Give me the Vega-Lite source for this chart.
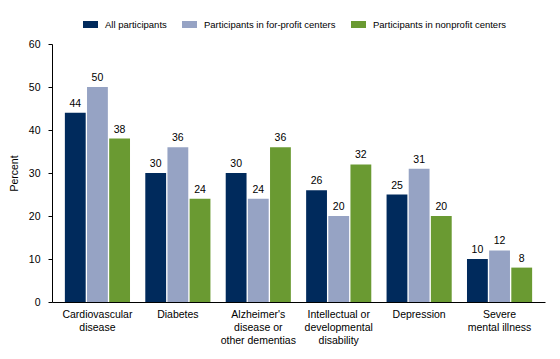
{
  "$schema": "https://vega.github.io/schema/vega-lite/v6.json",
  "autosize": "none",
  "width": 493,
  "height": 258,
  "padding": {"left": 52, "top": 44, "right": 15, "bottom": 57},
  "background": "white",
  "config": {
    "font": "Liberation Sans",
    "view": {"stroke": null},
    "axis": {"labelFont": "Liberation Sans", "titleFont": "Liberation Sans", "labelFontSize": 10.5, "labelColor": "#000000", "titleColor": "#000000", "domainColor": "#000000", "tickColor": "#000000", "grid": false}
  },
  "data": {
    "values": [
      {"cat": "Cardiovascular|disease", "grp": "All participants", "pct": 44},
      {"cat": "Cardiovascular|disease", "grp": "Participants in for-profit centers", "pct": 50},
      {"cat": "Cardiovascular|disease", "grp": "Participants in nonprofit centers", "pct": 38},
      {"cat": "Diabetes", "grp": "All participants", "pct": 30},
      {"cat": "Diabetes", "grp": "Participants in for-profit centers", "pct": 36},
      {"cat": "Diabetes", "grp": "Participants in nonprofit centers", "pct": 24},
      {"cat": "Alzheimer's|disease or|other dementias", "grp": "All participants", "pct": 30},
      {"cat": "Alzheimer's|disease or|other dementias", "grp": "Participants in for-profit centers", "pct": 24},
      {"cat": "Alzheimer's|disease or|other dementias", "grp": "Participants in nonprofit centers", "pct": 36},
      {"cat": "Intellectual or|developmental|disability", "grp": "All participants", "pct": 26},
      {"cat": "Intellectual or|developmental|disability", "grp": "Participants in for-profit centers", "pct": 20},
      {"cat": "Intellectual or|developmental|disability", "grp": "Participants in nonprofit centers", "pct": 32},
      {"cat": "Depression", "grp": "All participants", "pct": 25},
      {"cat": "Depression", "grp": "Participants in for-profit centers", "pct": 31},
      {"cat": "Depression", "grp": "Participants in nonprofit centers", "pct": 20},
      {"cat": "Severe|mental illness", "grp": "All participants", "pct": 10},
      {"cat": "Severe|mental illness", "grp": "Participants in for-profit centers", "pct": 12},
      {"cat": "Severe|mental illness", "grp": "Participants in nonprofit centers", "pct": 8}
    ]
  },
  "encoding": {
    "x": {
      "field": "cat", "type": "nominal", "sort": null,
      "scale": {"paddingInner": 0.19, "paddingOuter": 0.16},
      "axis": {"title": null, "labelAngle": 0, "ticks": false, "labelPadding": 7, "labelExpr": "split(datum.value, '|')", "labelLineHeight": 13, "labelBaseline": "top", "domainWidth": 1}
    },
    "xOffset": {
      "field": "grp", "type": "nominal",
      "scale": {"domain": ["All participants", "Participants in for-profit centers", "Participants in nonprofit centers"], "paddingInner": 0.06}
    },
    "y": {
      "field": "pct", "type": "quantitative",
      "scale": {"domain": [0, 60]},
      "axis": {"title": "Percent", "values": [0, 10, 20, 30, 40, 50, 60], "tickSize": 4, "labelPadding": 8, "titleFontSize": 10.5, "titleFontWeight": "normal", "titlePadding": 9}
    }
  },
  "layer": [
    {
      "mark": {"type": "bar"},
      "encoding": {
        "color": {
          "field": "grp", "type": "nominal",
          "scale": {"domain": ["All participants", "Participants in for-profit centers", "Participants in nonprofit centers"], "range": ["#002a5c", "#96a3c4", "#6a9a32"]},
          "legend": {
            "title": null, "orient": "none", "direction": "horizontal", "legendX": 31, "legendY": -27,
            "symbolType": "M-1,-0.47H1V0.47H-1Z", "symbolSize": 225, "symbolStrokeWidth": 0,
            "labelFontSize": 9.5, "labelFont": "Liberation Sans", "labelColor": "#000000", "labelOffset": 7, "columnPadding": 15
          }
        }
      }
    },
    {
      "mark": {"type": "text", "baseline": "bottom", "dy": -4, "fontSize": 10.5, "font": "Liberation Sans", "color": "#000000"},
      "encoding": {"text": {"field": "pct", "type": "quantitative"}}
    }
  ]
}
